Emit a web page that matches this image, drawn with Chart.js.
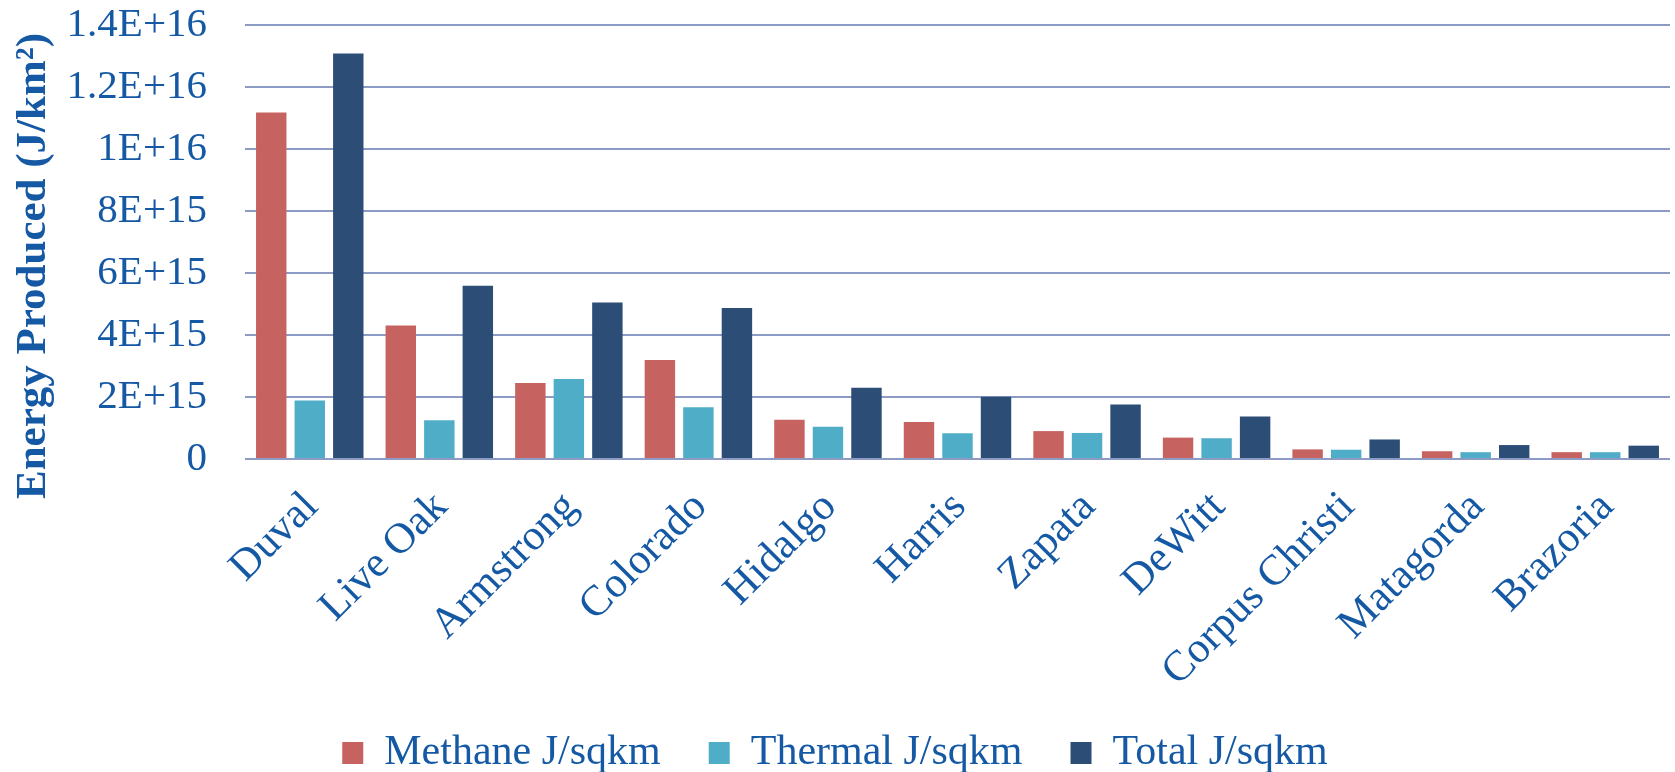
<!DOCTYPE html>
<html>
<head>
<meta charset="utf-8">
<script src="https://cdn.jsdelivr.net/npm/chart.js@4.4.1/dist/chart.umd.min.js"></script>
<style>
  html, body { margin: 0; padding: 0; background: #ffffff; }
  #wrap { width: 1675px; height: 772px; }
</style>
</head>
<body>
<div id="wrap"><canvas id="energyChart" width="1675" height="772"></canvas></div>
<script>
// Energy produced per square kilometre, by county
const counties = ['Duval', 'Live Oak', 'Armstrong', 'Colorado', 'Hidalgo', 'Harris',
                  'Zapata', 'DeWitt', 'Corpus Christi', 'Matagorda', 'Brazoria'];
const methane = [1.118e16, 4.31e15, 2.45e15, 3.19e15, 1.27e15, 1.19e15,
                 9.0e14, 6.9e14, 3.1e14, 2.5e14, 2.2e14];
const thermal = [1.89e15, 1.25e15, 2.58e15, 1.67e15, 1.04e15, 8.3e14,
                 8.4e14, 6.7e14, 3.0e14, 2.2e14, 2.2e14];
const total   = [1.308e16, 5.59e15, 5.05e15, 4.87e15, 2.30e15, 2.01e15,
                 1.76e15, 1.37e15, 6.3e14, 4.5e14, 4.3e14];
const seriesNames = ['Methane J/sqkm', 'Thermal J/sqkm', 'Total J/sqkm'];
const yTickLabels = ['0', '2E+15', '4E+15', '6E+15', '8E+15', '1E+16', '1.2E+16', '1.4E+16'];
const yTitle = 'Energy Produced (J/km\u00B2)';

const TEXT_BLUE = '#1559a5';
const GRID = '#8e9cc5';
const SERIF = "'Liberation Serif', 'Times New Roman', serif";

Chart.defaults.font.family = SERIF;
Chart.defaults.color = TEXT_BLUE;

// Vertical axis title, drawn rotated beside the value labels
const axisTitle = {
  id: 'axisTitle',
  afterDraw(chart) {
    const { ctx, chartArea } = chart;
    ctx.save();
    ctx.translate(34, (chartArea.top + chartArea.bottom) / 2 + 24);
    ctx.rotate(-Math.PI / 2);
    ctx.font = 'bold 43px ' + SERIF;
    ctx.fillStyle = TEXT_BLUE;
    ctx.textAlign = 'center';
    ctx.textBaseline = 'middle';
    ctx.fillText(yTitle, 0, 0);
    ctx.restore();
  }
};

new Chart(document.getElementById('energyChart'), {
  type: 'bar',
  data: {
    labels: counties,
    datasets: [
      { label: seriesNames[0], data: methane, backgroundColor: '#c66260' },
      { label: seriesNames[1], data: thermal, backgroundColor: '#50adc8' },
      { label: seriesNames[2], data: total,   backgroundColor: '#2c4e76' }
    ]
  },
  options: {
    responsive: false,
    animation: false,
    layout: { padding: { top: 0, right: 5, bottom: -12, left: 0 } },
    datasets: {
      bar: { categoryPercentage: 0.892, barPercentage: 0.79, borderWidth: 0 }
    },
    scales: {
      x: {
        grid: { display: false, drawTicks: false },
        border: { display: false },
        ticks: {
          autoSkip: false,
          minRotation: 45,
          maxRotation: 45,
          padding: 23,
          labelOffset: 2,
          color: TEXT_BLUE,
          font: { size: 43, family: SERIF }
        },
        afterFit: (scale) => {
          scale.height = 225;
          scale.paddingLeft = 0;
          scale.paddingRight = 0;
        }
      },
      y: {
        min: 0,
        max: 1.4e16,
        grid: { color: GRID, lineWidth: 2, drawTicks: false },
        border: { display: false },
        ticks: {
          stepSize: 2e15,
          padding: 38,
          color: TEXT_BLUE,
          font: { size: 41, family: SERIF },
          callback: (value, index) => yTickLabels[index]
        },
        afterFit: (scale) => {
          scale.width = 245;
          scale.paddingTop = 25;
          scale.paddingBottom = 0;
        }
      }
    },
    plugins: {
      tooltip: { enabled: false },
      legend: {
        position: 'bottom',
        labels: {
          boxWidth: 21,
          boxHeight: 22,
          padding: 48,
          color: TEXT_BLUE,
          font: { size: 42, family: SERIF }
        }
      }
    }
  },
  plugins: [axisTitle]
});
</script>
</body>
</html>
